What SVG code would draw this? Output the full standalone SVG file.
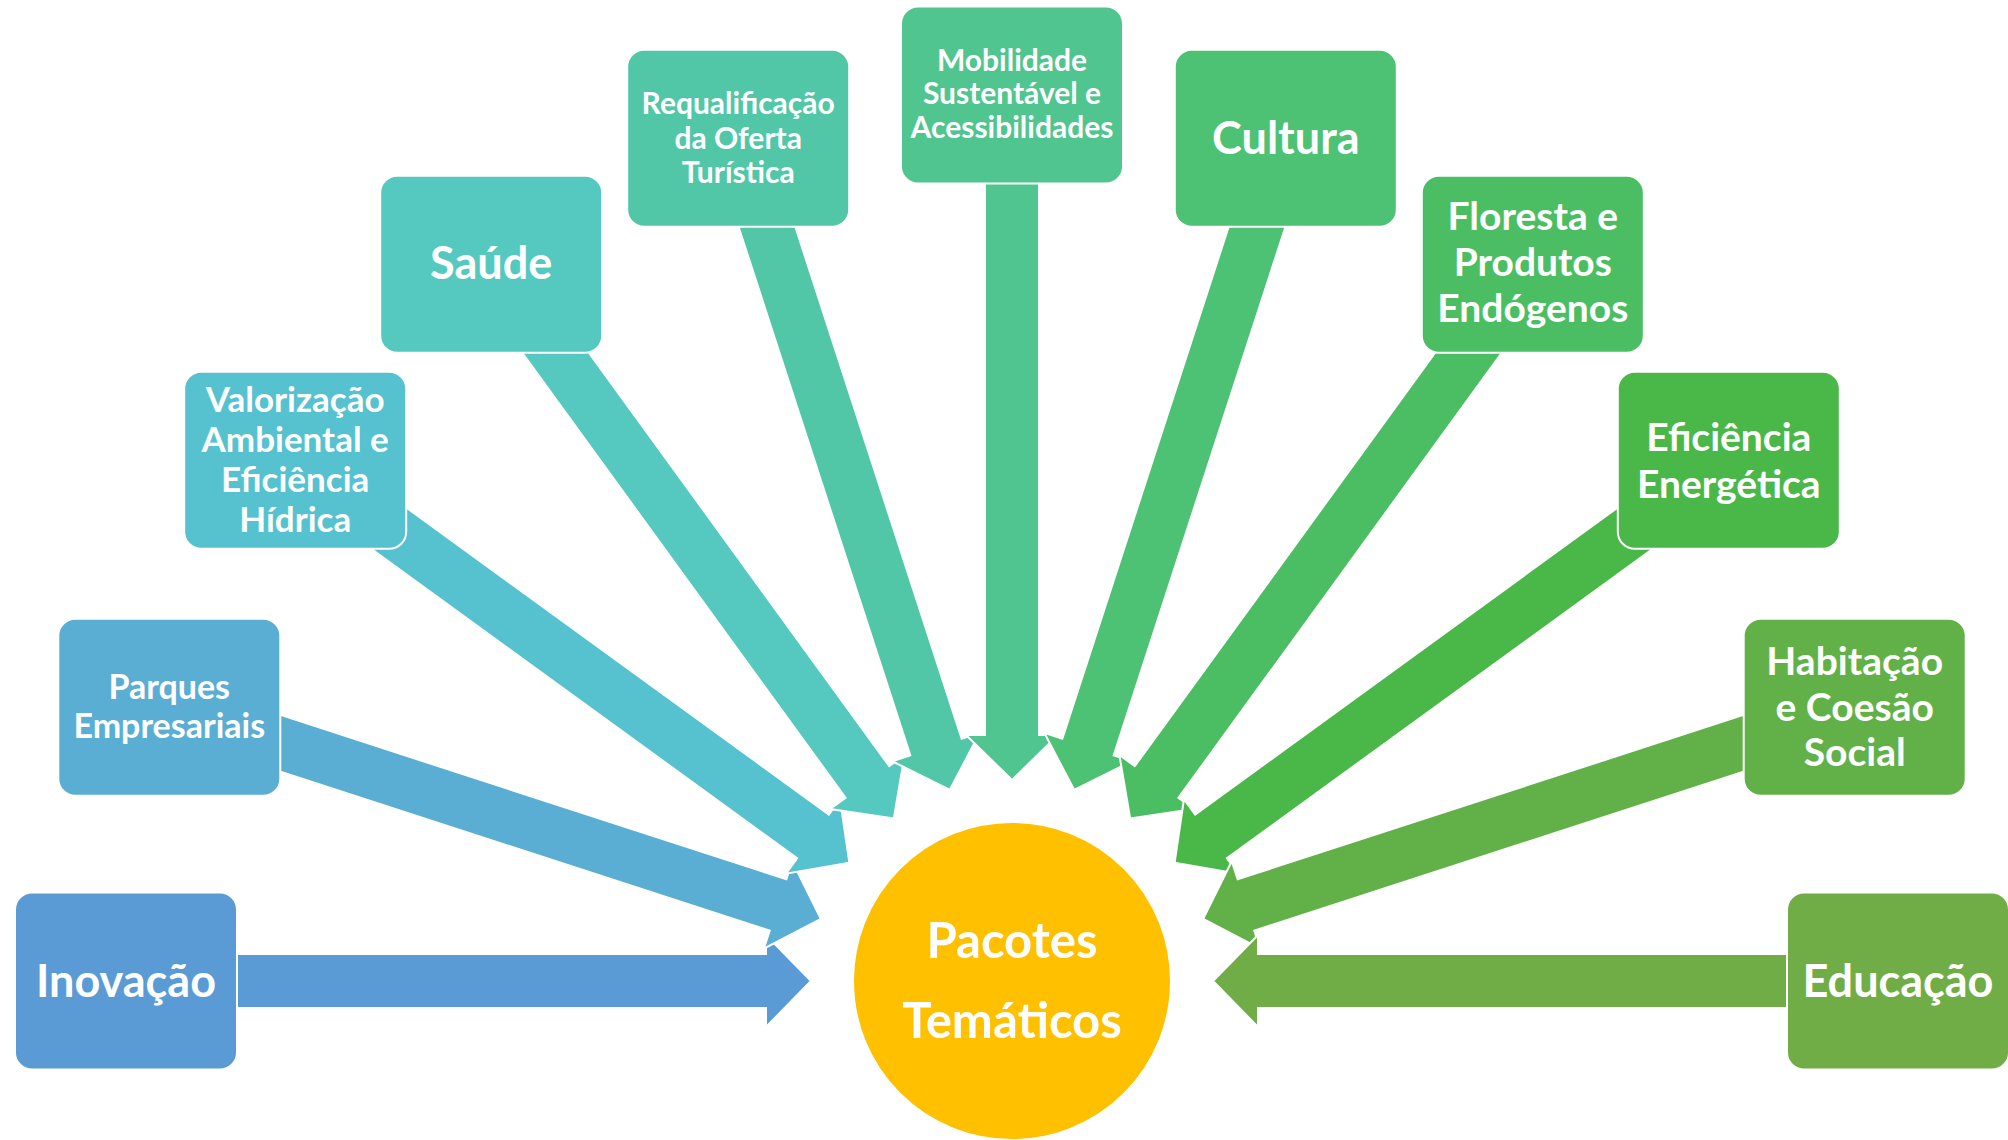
<svg xmlns="http://www.w3.org/2000/svg" xmlns:xlink="http://www.w3.org/1999/xlink" width="2008" height="1140" viewBox="0 0 2008 1140">
<style>
  .arr { stroke: #ffffff; stroke-width: 2; stroke-linejoin: miter; }
  .box { stroke: #ffffff; stroke-width: 2; }
  .t { font-family: Lato, "Open Sans", sans-serif; font-weight: bold; fill: #ffffff; text-anchor: middle; }
  .xl { font-size: 45px; }
  .l { font-size: 39px; }
  .m { font-size: 35px; }
  .s { font-size: 34px; }
  .xs { font-size: 30px; }
  .c { font-size: 49px; }
</style>
<defs>
  <path id="arrow" d="M -886,-27 H -246 V -46 L -201,0 L -246,46 V 27 H -886 Z"/>
</defs>
<rect x="0" y="0" width="2008" height="1140" fill="#ffffff"/>
<g id="connectors">
  <use xlink:href="#arrow" href="#arrow" class="arr" fill="#5B9BD5" transform="translate(1012,981) rotate(0)"/>
  <use xlink:href="#arrow" href="#arrow" class="arr" fill="#5AADD3" transform="translate(1012,981) rotate(18)"/>
  <use xlink:href="#arrow" href="#arrow" class="arr" fill="#56C2D0" transform="translate(1012,981) rotate(36)"/>
  <use xlink:href="#arrow" href="#arrow" class="arr" fill="#55C9C0" transform="translate(1012,981) rotate(54)"/>
  <use xlink:href="#arrow" href="#arrow" class="arr" fill="#51C7A8" transform="translate(1012,981) rotate(72)"/>
  <use xlink:href="#arrow" href="#arrow" class="arr" fill="#50C58F" transform="translate(1012,981) rotate(90)"/>
  <use xlink:href="#arrow" href="#arrow" class="arr" fill="#4DC174" transform="translate(1012,981) rotate(108)"/>
  <use xlink:href="#arrow" href="#arrow" class="arr" fill="#4BBE63" transform="translate(1012,981) rotate(126)"/>
  <use xlink:href="#arrow" href="#arrow" class="arr" fill="#4AB749" transform="translate(1012,981) rotate(144)"/>
  <use xlink:href="#arrow" href="#arrow" class="arr" fill="#62B148" transform="translate(1012,981) rotate(162)"/>
  <use xlink:href="#arrow" href="#arrow" class="arr" fill="#70AD47" transform="translate(1012,981) rotate(180)"/>
</g>
<g id="node-inovacao">
  <rect class="box" x="15" y="892.5" width="222" height="177" rx="17" fill="#5B9BD5"/>
  <text class="t xl" x="126" y="997">Inovação</text>
</g>
<g id="node-parques">
  <rect class="box" x="58.3" y="618.7" width="222" height="177" rx="17" fill="#5AADD3"/>
  <text class="t s" x="169.3" y="699">Parques</text>
  <text class="t s" x="169.3" y="738">Empresariais</text>
</g>
<g id="node-valorizacao">
  <rect class="box" x="184.2" y="371.7" width="222" height="177" rx="17" fill="#56C2D0"/>
  <text class="t m" x="295.2" y="412">Valorização</text>
  <text class="t m" x="295.2" y="452">Ambiental e</text>
  <text class="t m" x="295.2" y="492">Eficiência</text>
  <text class="t m" x="295.2" y="532">Hídrica</text>
</g>
<g id="node-saude">
  <rect class="box" x="380.2" y="175.7" width="222" height="177" rx="17" fill="#55C9C0"/>
  <text class="t xl" x="491.2" y="279">Saúde</text>
</g>
<g id="node-requalificacao">
  <rect class="box" x="627.2" y="49.8" width="222" height="177" rx="17" fill="#51C7A8"/>
  <text class="t xs" x="738.2" y="114">Requalificação</text>
  <text class="t xs" x="738.2" y="148.5">da Oferta</text>
  <text class="t xs" x="738.2" y="183">Turística</text>
</g>
<g id="node-mobilidade">
  <rect class="box" x="901" y="6.5" width="222" height="177" rx="17" fill="#50C58F"/>
  <text class="t xs" x="1012" y="70.5">Mobilidade</text>
  <text class="t xs" x="1012" y="104">Sustentável e</text>
  <text class="t xs" x="1012" y="137.5">Acessibilidades</text>
</g>
<g id="node-cultura">
  <rect class="box" x="1174.8" y="49.8" width="222" height="177" rx="17" fill="#4DC174"/>
  <text class="t xl" x="1285.8" y="154">Cultura</text>
</g>
<g id="node-floresta">
  <rect class="box" x="1421.8" y="175.7" width="222" height="177" rx="17" fill="#4BBE63"/>
  <text class="t l" x="1532.8" y="230">Floresta e</text>
  <text class="t l" x="1532.8" y="276">Produtos</text>
  <text class="t l" x="1532.8" y="322">Endógenos</text>
</g>
<g id="node-eficiencia">
  <rect class="box" x="1617.8" y="371.7" width="222" height="177" rx="17" fill="#4AB749"/>
  <text class="t l" x="1728.8" y="450.5">Eficiência</text>
  <text class="t l" x="1728.8" y="497.5">Energética</text>
</g>
<g id="node-habitacao">
  <rect class="box" x="1743.7" y="618.7" width="222" height="177" rx="17" fill="#62B148"/>
  <text class="t l" x="1854.7" y="674.5">Habitação</text>
  <text class="t l" x="1854.7" y="720.5">e Coesão</text>
  <text class="t l" x="1854.7" y="765.5">Social</text>
</g>
<g id="node-educacao">
  <rect class="box" x="1787" y="892.5" width="222" height="177" rx="17" fill="#70AD47"/>
  <text class="t xl" x="1898" y="997">Educação</text>
</g>
<g id="node-pacotes">
  <circle cx="1012" cy="981" r="159" fill="#FFC000" stroke="#ffffff" stroke-width="2"/>
  <text class="t c" x="1012" y="958">Pacotes</text>
  <text class="t c" x="1012" y="1038">Temáticos</text>
</g>
</svg>
